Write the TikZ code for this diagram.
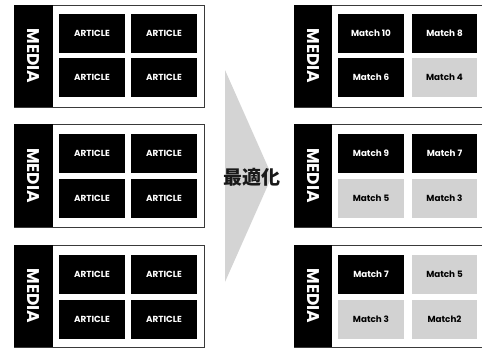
\documentclass[tikz,border=0pt]{standalone}
\usepackage{fontspec}
\setmainfont{Poppins}
\newfontfamily\cjk{Noto Sans CJK JP}
\definecolor{boxgray}{HTML}{D2D2D2}
\definecolor{arrowgray}{HTML}{D4D4D4}
\definecolor{framegray}{HTML}{3A3A3A}
\begin{document}
\begin{tikzpicture}[x=1pt,y=-1pt,
  frame/.style={draw=framegray,line width=0.9pt},
  strip/.style={fill=black,inner sep=0pt,minimum width=39pt,text=white,
    font=\fontsize{17}{17}\selectfont\bfseries},
  blk/.style={fill=black,inner sep=0pt,minimum width=66pt,minimum height=39pt,text=white,
    font=\fontsize{8.8}{9}\selectfont\bfseries},
  gry/.style={fill=boxgray,inner sep=0pt,minimum width=66pt,minimum height=39pt,text=black,
    font=\fontsize{8.8}{9}\selectfont\bfseries}]
\useasboundingbox (0,0) rectangle (482,349);
% arrow
\path[fill=arrowgray] (225,70) -- (272,176) -- (225,282) -- cycle;
\node[font=\cjk\bfseries\fontsize{19}{19}\selectfont,text=black!90] (opt) at (252,177) {最適化};
% left blocks
\foreach \i/\t/\b/\ra/\rb in {1/5/107/33.5/77, 2/124/227/153.5/198.5, 3/245/347/274.5/319.5}{
  \path[frame] (14,\t) rectangle (204,\b);
  \node[strip,minimum height={\b-\t}] (lm\i) at (33.5,{(\t+\b)/2}) {\rotatebox{-90}{MEDIA}};
  \node[blk] (la\i) at (92,\ra) {ARTICLE};
  \node[blk] (lb\i) at (164,\ra) {ARTICLE};
  \node[blk] (lc\i) at (92,\rb) {ARTICLE};
  \node[blk] (ld\i) at (164,\rb) {ARTICLE};
}
% right blocks
\foreach \i/\t/\b in {1/5/107, 2/124/227, 3/245/347}{
  \path[frame] (294,\t) rectangle (500,\b);
  \node[strip,minimum width=38pt,minimum height={\b-\t}] (rm\i) at (313,{(\t+\b)/2}) {\rotatebox{-90}{MEDIA}};
}
\node[blk] (ra1) at (371,33.5) {Match 10};
\node[blk,minimum width=65pt] (rb1) at (444.5,33.5) {Match 8};
\node[blk] (rc1) at (371,77) {Match 6};
\node[gry,minimum width=65pt] (rd1) at (444.5,77) {Match 4};
\node[blk] (ra2) at (371,153.5) {Match 9};
\node[blk,minimum width=65pt] (rb2) at (444.5,153.5) {Match 7};
\node[gry] (rc2) at (371,198.5) {Match 5};
\node[gry,minimum width=65pt] (rd2) at (444.5,198.5) {Match 3};
\node[blk] (ra3) at (371,274.5) {Match 7};
\node[gry,minimum width=65pt] (rb3) at (444.5,274.5) {Match 5};
\node[gry] (rc3) at (371,319.5) {Match 3};
\node[gry,minimum width=65pt] (rd3) at (444.5,319.5) {Match2};
\end{tikzpicture}
\end{document}
